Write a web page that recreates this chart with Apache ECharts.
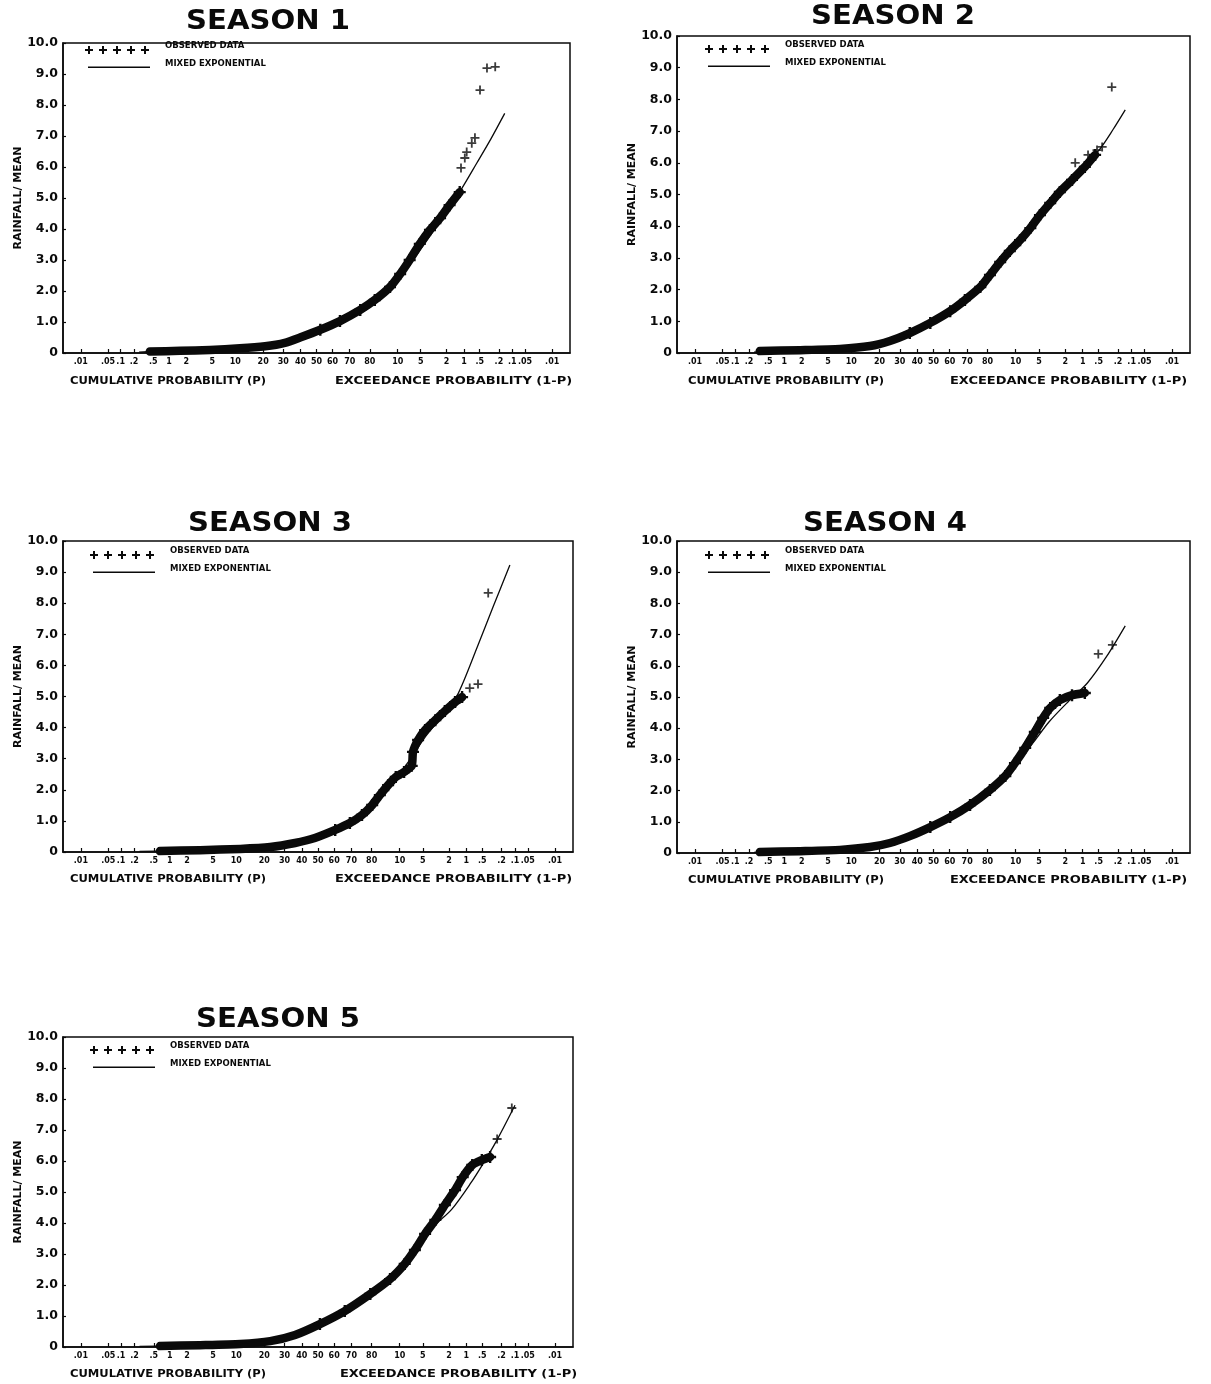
<!DOCTYPE html>
<html><head><meta charset="utf-8">
<script src="https://cdn.jsdelivr.net/npm/echarts@6/dist/echarts.min.js"></script>
<style>html,body{margin:0;background:#fff}#c{width:1211px;height:1384px}</style>
</head><body><div id="c"></div>
<script>
// ---------- data ----------
const seasonTitles = ['SEASON 1', 'SEASON 2', 'SEASON 3', 'SEASON 4', 'SEASON 5'];
// probability-paper tick positions (cumulative probability, %)
const tickProbPct = [0.01, 0.05, 0.1, 0.2, 0.5, 1, 2, 5, 10, 20, 30, 40, 50, 60, 70, 80, 90, 95, 98, 99, 99.5, 99.8, 99.9, 99.95, 99.99];
const tickLabels = ['.01', '.05', '.1', '.2', '.5', '1', '2', '5', '10', '20', '30', '40', '50', '60', '70', '80', '10', '5', '2', '1', '.5', '.2', '.1', '.05', '.01'];
const yTickLabels = ['0', '1.0', '2.0', '3.0', '4.0', '5.0', '6.0', '7.0', '8.0', '9.0', '10.0'];
const legendObserved = 'OBSERVED DATA';
const legendFit = 'MIXED EXPONENTIAL';
const xTitleLeft = 'CUMULATIVE PROBABILITY (P)';
const xTitleRight = 'EXCEEDANCE PROBABILITY (1-P)';
const yTitle = 'RAINFALL/ MEAN';

// observed data: [normal deviate z, rainfall/mean]
const s1Band = [[-2.63,0.05],[-2.15,0.07],[-1.68,0.1],[-1.21,0.15],[-0.81,0.22],[-0.5,0.33],[-0.26,0.5],[0.06,0.75],[0.37,1.03],[0.69,1.39],[0.92,1.71],[1.16,2.13],[1.32,2.55],[1.47,3.0],[1.63,3.52],[1.79,3.97],[1.95,4.35],[2.1,4.77],[2.26,5.19]];
const s1Out = [[2.28,5.97],[2.34,6.29],[2.37,6.48],[2.45,6.77],[2.5,6.94],[2.58,8.48],[2.69,9.19],[2.82,9.23]];
const s1Fit = [[-2.8,0.03],[-2.0,0.08],[-1.2,0.17],[-0.5,0.38],[0,0.68],[0.5,1.12],[1.0,1.8],[1.5,2.95],[2.0,4.4],[2.26,5.2],[2.53,6.13],[2.75,6.9],[2.97,7.73]];

const s2Band = [[-2.71,0.06],[-2.08,0.09],[-1.46,0.13],[-0.99,0.22],[-0.68,0.38],[-0.37,0.63],[-0.05,0.95],[0.26,1.32],[0.49,1.67],[0.73,2.08],[0.88,2.46],[1.04,2.87],[1.19,3.22],[1.35,3.56],[1.51,3.94],[1.66,4.35],[1.82,4.73],[1.97,5.08],[2.16,5.46],[2.36,5.87],[2.52,6.25]];
const s2Out = [[2.21,6.0],[2.41,6.25],[2.55,6.4],[2.63,6.5],[2.78,8.39]];
const s2Fit = [[-2.8,0.03],[-2.0,0.08],[-1.2,0.18],[-0.5,0.48],[0,0.93],[0.5,1.65],[1.0,2.75],[1.5,3.92],[2.0,5.1],[2.3,5.75],[2.6,6.45],[2.8,7.05],[2.99,7.67]];

const s3Band = [[-2.48,0.03],[-1.85,0.06],[-1.22,0.1],[-0.75,0.16],[-0.36,0.29],[-0.05,0.45],[0.27,0.71],[0.5,0.93],[0.69,1.19],[0.85,1.51],[0.97,1.83],[1.1,2.15],[1.22,2.41],[1.35,2.57],[1.47,2.77],[1.49,3.22],[1.57,3.6],[1.68,3.92],[1.84,4.24],[1.99,4.53],[2.15,4.82],[2.26,4.98]];
const s3Out = [[2.38,5.27],[2.51,5.4],[2.67,8.33]];
const s3Fit = [[-2.8,0.02],[-2.0,0.05],[-1.2,0.12],[-0.5,0.3],[0,0.55],[0.5,1.0],[1.0,1.8],[1.4,2.85],[1.7,3.75],[2.0,4.5],[2.2,5.1],[2.5,6.6],[2.75,7.9],[3.01,9.23]];

const s4Band = [[-2.71,0.03],[-2.08,0.06],[-1.46,0.1],[-0.99,0.19],[-0.68,0.32],[-0.37,0.54],[-0.05,0.83],[0.26,1.15],[0.57,1.54],[0.88,2.02],[1.12,2.47],[1.27,2.88],[1.43,3.37],[1.58,3.88],[1.71,4.33],[1.82,4.65],[1.97,4.9],[2.16,5.06],[2.36,5.13]];
const s4Out = [[2.57,6.38],[2.79,6.67]];
const s4Fit = [[-2.8,0.02],[-2.0,0.06],[-1.2,0.16],[-0.5,0.45],[0,0.88],[0.5,1.45],[1.0,2.3],[1.5,3.4],[1.8,4.2],[2.1,4.85],[2.4,5.45],[2.7,6.3],[2.99,7.28]];

const s5Band = [[-2.48,0.03],[-1.85,0.06],[-1.22,0.1],[-0.75,0.19],[-0.36,0.39],[0.03,0.74],[0.42,1.16],[0.82,1.71],[1.13,2.19],[1.36,2.68],[1.52,3.13],[1.68,3.65],[1.84,4.1],[1.99,4.58],[2.15,5.06],[2.27,5.48],[2.42,5.87],[2.57,6.03],[2.7,6.13]];
const s5Out = [[2.81,6.71],[3.04,7.71]];
const s5Fit = [[-2.8,0.02],[-2.0,0.05],[-1.2,0.12],[-0.5,0.35],[0,0.72],[0.5,1.25],[1.0,1.95],[1.5,3.0],[1.8,3.85],[2.1,4.45],[2.4,5.3],[2.6,5.95],[2.8,6.65],[3.09,7.8]];

const bands = [s1Band, s2Band, s3Band, s4Band, s5Band];
const outs = [s1Out, s2Out, s3Out, s4Out, s5Out];
const fits = [s1Fit, s2Fit, s3Fit, s4Fit, s5Fit];

// ---------- layout ----------
const panels = [
  {left: 63, top: 43, width: 507, height: 310, title: [268, 22], legend: [85, 46], xt: [70, 335, 381], yt: 18},
  {left: 677, top: 36, width: 513, height: 317, title: [893, 17], legend: [705, 45], xt: [688, 950, 381], yt: 636},
  {left: 63, top: 541, width: 510, height: 311, title: [270, 524], legend: [90, 551], xt: [70, 335, 879], yt: 18},
  {left: 677, top: 541, width: 513, height: 312, title: [885, 524], legend: [705, 551], xt: [688, 950, 880], yt: 636},
  {left: 63, top: 1037, width: 510, height: 310, title: [278, 1020], legend: [90, 1046], xt: [70, 340, 1374], yt: 18}
];

// inverse standard normal CDF (probability-paper scale)
function probit(p) {
  const a = [-3.969683028665376e+01, 2.209460984245205e+02, -2.759285104469687e+02, 1.383577518672690e+02, -3.066479806614716e+01, 2.506628277459239e+00];
  const b = [-5.447609879822406e+01, 1.615858368580409e+02, -1.556989798598866e+02, 6.680131188771972e+01, -1.328068155288572e+01];
  const c = [-7.784894002430293e-03, -3.223964580411365e-01, -2.400758277161838e+00, -2.549671340344138e+00, 4.374664141464968e+00, 2.938163982698783e+00];
  const d = [7.784695709041462e-03, 3.224671290700398e-01, 2.445134137142996e+00, 3.754408661907416e+00];
  const pl = 0.02425, ph = 1 - pl;
  let q, r;
  if (p < pl) { q = Math.sqrt(-2 * Math.log(p)); return (((((c[0]*q+c[1])*q+c[2])*q+c[3])*q+c[4])*q+c[5]) / ((((d[0]*q+d[1])*q+d[2])*q+d[3])*q+1); }
  if (p <= ph) { q = p - 0.5; r = q*q; return (((((a[0]*r+a[1])*r+a[2])*r+a[3])*r+a[4])*r+a[5])*q / (((((b[0]*r+b[1])*r+b[2])*r+b[3])*r+b[4])*r+1); }
  q = Math.sqrt(-2 * Math.log(1 - p)); return -(((((c[0]*q+c[1])*q+c[2])*q+c[3])*q+c[4])*q+c[5]) / ((((d[0]*q+d[1])*q+d[2])*q+d[3])*q+1);
}
const tickZ = tickProbPct.map(p => probit(p / 100));
function zLabel(v) {
  let best = 0;
  for (let i = 1; i < tickZ.length; i++) if (Math.abs(tickZ[i] - v) < Math.abs(tickZ[best] - v)) best = i;
  return tickLabels[best];
}

const PLUS = 'path://M4,0H6V4H10V6H6V10H4V6H0V4H4Z';
const FONT = '"DejaVu Sans", sans-serif';
const INK = '#0a0a0a';

const grid = [], xAxis = [], yAxis = [], series = [], graphic = [];
panels.forEach((p, i) => {
  grid.push({left: p.left, top: p.top, width: p.width, height: p.height, show: true, borderColor: INK, borderWidth: 1.5, backgroundColor: 'transparent'});
  xAxis.push({
    type: 'value', gridIndex: i, min: -4, max: 4,
    axisLine: {show: true, onZero: false, lineStyle: {color: INK, width: 1.5}},
    axisTick: {show: true, inside: true, length: 4, customValues: tickZ, lineStyle: {color: INK, width: 1.2}},
    axisLabel: {show: true, customValues: tickZ, formatter: zLabel, color: INK, fontFamily: FONT, fontWeight: 'bold', fontSize: 8, margin: 5},
    splitLine: {show: false}
  });
  yAxis.push({
    type: 'value', gridIndex: i, min: 0, max: 10, interval: 1,
    name: yTitle, nameLocation: 'middle', nameRotate: 90, nameGap: p.left - p.yt - 6,
    nameTextStyle: {color: INK, fontFamily: FONT, fontWeight: 'bold', fontSize: 11},
    axisLine: {show: true, onZero: false, lineStyle: {color: INK, width: 1.5}},
    axisTick: {show: true, inside: true, length: 3, lineStyle: {color: INK, width: 1.2}},
    axisLabel: {formatter: v => yTickLabels[Math.round(v)], color: INK, fontFamily: FONT, fontWeight: 'bold', fontSize: 12.5, margin: 5},
    splitLine: {show: false}
  });
  series.push({
    name: legendObserved, type: 'line', xAxisIndex: i, yAxisIndex: i, data: bands[i],
    smooth: 0.2, clip: true, symbol: PLUS, symbolSize: v => (v[1] < 0.6 ? 0 : 12),
    itemStyle: {color: INK}, lineStyle: {color: INK, width: 8.5, cap: 'round', join: 'round'}, z: 3, silent: true
  });
  series.push({
    name: legendObserved, type: 'scatter', xAxisIndex: i, yAxisIndex: i, data: outs[i],
    symbol: PLUS, symbolSize: 9, itemStyle: {color: INK}, z: 4, silent: true
  });
  series.push({
    name: legendFit, type: 'line', xAxisIndex: i, yAxisIndex: i, data: fits[i],
    smooth: 0.3, symbol: 'none', lineStyle: {color: INK, width: 1.3}, z: 5, silent: true
  });
  // title
  graphic.push({type: 'text', x: p.title[0], y: p.title[1], scaleX: 1.12, style: {text: seasonTitles[i], fill: INK, font: 'bold 26px ' + FONT, textAlign: 'center', textVerticalAlign: 'middle'}});
  // legend: five plus marks, the fit line and the two labels
  const lx = p.legend[0], ly = p.legend[1];
  for (let k = 0; k < 5; k++) {
    const cx = lx + 4 + k * 14, cy = ly + 4;
    graphic.push({type: 'rect', shape: {x: cx - 4, y: cy - 1, width: 8, height: 2}, style: {fill: INK}});
    graphic.push({type: 'rect', shape: {x: cx - 1, y: cy - 4, width: 2, height: 8}, style: {fill: INK}});
  }
  graphic.push({type: 'text', x: lx + 80, y: ly, style: {text: legendObserved, fill: INK, font: 'bold 8.5px ' + FONT, textVerticalAlign: 'middle'}});
  graphic.push({type: 'rect', shape: {x: lx + 3, y: ly + 20.5, width: 62, height: 1.5}, style: {fill: INK}});
  graphic.push({type: 'text', x: lx + 80, y: ly + 18, style: {text: legendFit, fill: INK, font: 'bold 8.5px ' + FONT, textVerticalAlign: 'middle'}});
  // x-axis titles
  graphic.push({type: 'text', x: p.xt[0], y: p.xt[2], scaleX: 1.05, style: {text: xTitleLeft, fill: INK, font: 'bold 11px ' + FONT, textVerticalAlign: 'middle'}});
  graphic.push({type: 'text', x: p.xt[1], y: p.xt[2], scaleX: 1.18, style: {text: xTitleRight, fill: INK, font: 'bold 11px ' + FONT, textVerticalAlign: 'middle'}});
});

const chart = echarts.init(document.getElementById('c'), null, {renderer: 'canvas'});
chart.setOption({backgroundColor: '#fff', animation: false, grid, xAxis, yAxis, series, graphic});
</script>
</body></html>
